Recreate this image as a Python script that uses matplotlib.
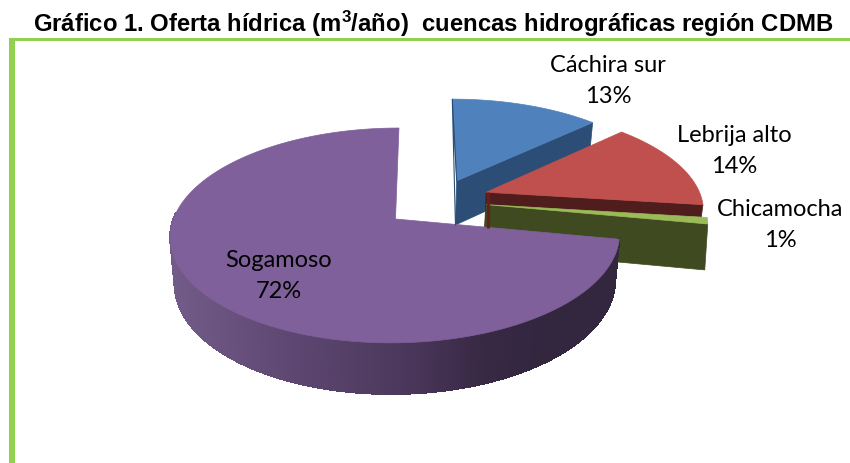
import numpy as np
import matplotlib
matplotlib.use("Agg")
import matplotlib.pyplot as plt
from matplotlib.patches import Polygon, Rectangle
from matplotlib.collections import PolyCollection

labels = ["Cáchira sur", "Lebrija alto", "Chicamocha", "Sogamoso"]
values = [13, 14, 1, 72]

# explode of each slice, in units of the pie radius
explode_u = [0.285, 0.42, 0.415, 0.0]
explode_v = [0.385, 0.265, 0.14, 0.0]

top_colors = ["#4f81bd", "#c0504d", "#9bbb59", "#7f609b"]
side_colors = ["#2c4d75", "#4f1d1b", "#3f4a20", "#3a2b4a"]
frame_color = "#92d050"

plt.rcParams["font.family"] = ["Lato", "DejaVu Sans"]
plt.rcParams["mathtext.fontset"] = "custom"
plt.rcParams["mathtext.bf"] = "Liberation Sans:bold"

# fake 3d view, numbers fitted by eye
X0, Y0 = 395.5, 219
B, A, K, SKEW = 222, 104.9, 0.153, 4


def project(u, v):
    w = 1 + K * v
    return X0 + (B * u + SKEW * v) / w, Y0 - A * v / w


def lower(x, y):
    return X0 + (x - X0) * 0.98, 1.043 * y + 36.3


fig = plt.figure(figsize=(8.5, 4.63), dpi=100)
ax = fig.add_axes([0, 0, 1, 1])
ax.set_xlim(0, 850)
ax.set_ylim(463, 0)
ax.axis("off")

ax.add_patch(Rectangle((9, 38.3), 841, 2.5, color=frame_color, lw=0))
ax.add_patch(Rectangle((9.3, 38.3), 5.4, 425, color=frame_color, lw=0))
ax.text(433, 32, r"Gráfico 1. Oferta hídrica (m$\mathbf{^3}$/año)  cuencas hidrográficas región CDMB",
        family="Liberation Sans", weight="bold", fontsize=17.2, ha="center", va="baseline")

edges = np.cumsum([0] + values) / sum(values) * 2 * np.pi


def slice_top(i):
    n = max(int(values[i] * 4), 4)
    t = np.linspace(edges[i], edges[i + 1], n)
    u = explode_u[i] + np.sin(t)
    v = explode_v[i] + np.cos(t)
    ax_x, ax_y = project(np.r_[explode_u[i], u], np.r_[explode_v[i], v])
    return ax_x, ax_y


# back slices: cut face along the clockwise edge, then the top
for i in range(3):
    x, y = slice_top(i)
    lx, ly = lower(x, y)
    if i == 2:
        lx = x - 3
    face = [(x[0], y[0]), (x[-1], y[-1]), (lx[-1], ly[-1]), (lx[0], ly[0])]
    ax.add_patch(Polygon(face, fc=side_colors[i], ec=side_colors[i], lw=0.5))
    if i == 0:
        ax.plot([x[0], x[1], lx[0]], [y[0], y[1], ly[0]], color=side_colors[i], lw=0.8)
    if i == 1:
        # left strip under the red apex
        ax.plot([x[0] + 1.5, x[0] + 1.5], [y[0], ly[0] - 9], color="#6b1f1d", lw=2.2, solid_capstyle="butt")
    ax.add_patch(Polygon(np.c_[x, y], fc=top_colors[i], ec=top_colors[i], lw=0.5))

# big slice: shaded rim then top
x, y = slice_top(3)
x, y = x[1:], y[1:]
lx, ly = lower(x, y)
grad_x = [170, 300, 400, 480, 540, 620]
grad_r = [0x72, 0x5c, 0x4c, 0x38, 0x33, 0x33]
grad_g = [0x5b, 0x46, 0x38, 0x29, 0x26, 0x26]
grad_b = [0x88, 0x70, 0x5c, 0x45, 0x3f, 0x3f]
strips, cols = [], []
for j in range(len(x) - 1):
    strips.append([(x[j], y[j]), (x[j + 1], y[j + 1]), (lx[j + 1], ly[j + 1]), (lx[j], ly[j])])
    mid = (x[j] + x[j + 1]) / 2
    cols.append((np.interp(mid, grad_x, grad_r) / 255, np.interp(mid, grad_x, grad_g) / 255,
                 np.interp(mid, grad_x, grad_b) / 255))
keep = len(strips) * 2 // 3
ax.add_collection(PolyCollection(strips[:keep], facecolors=cols[:keep],
                                 edgecolors="face", linewidths=0.8, antialiaseds=False))
x, y = slice_top(3)
ax.add_patch(Polygon(np.c_[x, y], fc=top_colors[3], ec=top_colors[3], lw=0.5))

label_pos = [(608, 81), (734, 151), (780, 225), (279, 276)]
for name, val, (tx, ty) in zip(labels, values, label_pos):
    ax.text(tx, ty, f"{name}\n{val}%", fontsize=17, ha="center", va="center",
            color="black", linespacing=1.6)

fig.savefig("out.png", dpi=100)
